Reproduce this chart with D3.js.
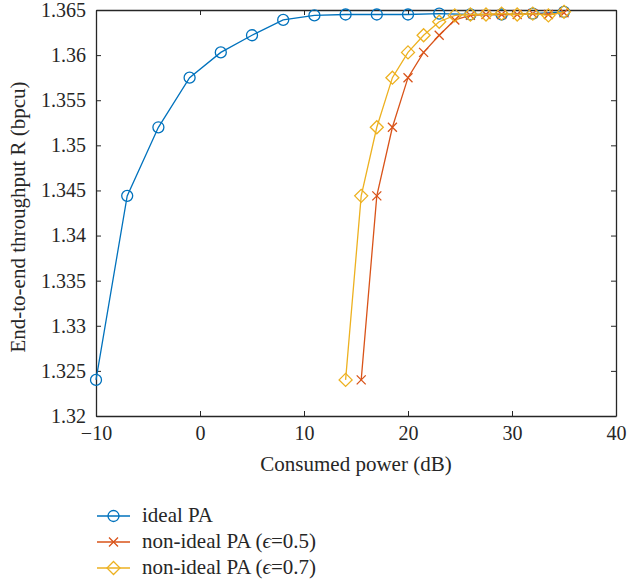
<!DOCTYPE html>
<html><head><meta charset="utf-8">
<script src="https://cdn.jsdelivr.net/npm/d3@7"></script>
<style>
body{margin:0;background:#fff;}
svg text{font-family:"Liberation Serif","Times New Roman",serif !important;}
</style></head>
<body><svg id="c" width="629" height="584"></svg>
<script>
const idealX = [-10,-7,-4,-1,2,5,8,11,14,17,20,23,26,29,32,35];
const idealY = [1.3240,1.3444,1.3520,1.3575,1.3603,1.3622,1.3639,1.3644,1.3645,1.3645,1.3645,1.3646,1.3645,1.3645,1.3646,1.3648];
const eps05X = [15.5,17,18.5,20,21.5,23,24.5,26,27.5,29,30.5,32,33.5,35];
const eps05Y = [1.3240,1.3444,1.3520,1.3575,1.3603,1.3622,1.3639,1.3644,1.3645,1.3645,1.3645,1.3646,1.3645,1.3647];
const eps07X = [14,15.5,17,18.5,20,21.5,23,24.5,26,27.5,29,30.5,32,33.5,35];
const eps07Y = [1.3240,1.3444,1.3520,1.3575,1.3603,1.3622,1.3637,1.3644,1.3645,1.3645,1.3646,1.3645,1.3646,1.3644,1.3648];
const xTicks = [-10,0,10,20,30,40];
const yTicks = [1.32,1.325,1.33,1.335,1.34,1.345,1.35,1.355,1.36,1.365];
const seriesNames = ["ideal PA","non-ideal PA (", "non-ideal PA ("];
const epsVals = [null,"=0.5)","=0.7)"];
const colors = ["#0072BD","#D95319","#EDB120"];
const markers = ["circle","cross","diamond"];

const svg = d3.select("#c");
const L=96, R=616, T=10, B=416;
const FS = 20, FS2 = 21;
const x = d3.scaleLinear().domain([-10,40]).range([L,R]);
const y = d3.scaleLinear().domain([1.32,1.365]).range([B,T]);
const axc = "#262626";

const fmtY = d => String(+d.toFixed(3));
function styleAxis(g){
  g.attr("font-family",null).attr("font-size",null);
  g.select(".domain").attr("stroke",axc).attr("stroke-width",1.3);
  g.selectAll("line").attr("stroke",axc);
  g.selectAll("text").attr("font-size",FS).attr("fill",axc);
}
svg.append("g").attr("transform",`translate(0,${B})`)
  .call(d3.axisBottom(x).tickValues(xTicks).tickSizeInner(-5).tickSizeOuter(0).tickPadding(10).tickFormat(d=>d<0?"\u2212"+Math.abs(d):d))
  .call(styleAxis);
svg.append("g").attr("transform",`translate(0,${T})`)
  .call(d3.axisTop(x).tickValues(xTicks).tickSizeInner(-5).tickSizeOuter(0).tickFormat(""))
  .call(styleAxis);
svg.append("g").attr("transform",`translate(${L},0)`)
  .call(d3.axisLeft(y).tickValues(yTicks).tickSizeInner(-5).tickSizeOuter(0).tickPadding(10).tickFormat(fmtY))
  .call(styleAxis);
svg.append("g").attr("transform",`translate(${R},0)`)
  .call(d3.axisRight(y).tickValues(yTicks).tickSizeInner(-5).tickSizeOuter(0).tickFormat(""))
  .call(styleAxis);

svg.append("text").attr("x",(L+R)/2).attr("y",471).attr("text-anchor","middle").attr("font-size",FS2).attr("fill",axc).text("Consumed power (dB)");
svg.append("text").attr("transform",`translate(25,217) rotate(-90)`).attr("text-anchor","middle").attr("font-size",FS2).attr("fill",axc).text("End-to-end throughput R (bpcu)");

function drawMarker(g,type,cx,cy,color){
  if(type==="circle") g.append("circle").attr("cx",cx).attr("cy",cy).attr("r",5.5).attr("fill","none").attr("stroke",color).attr("stroke-width",1.3);
  else if(type==="cross"){const s=4.5;g.append("path").attr("d",`M${cx-s},${cy-s}L${cx+s},${cy+s}M${cx-s},${cy+s}L${cx+s},${cy-s}`).attr("stroke",color).attr("stroke-width",1.3).attr("fill","none");}
  else {const s=6.5;g.append("path").attr("d",`M${cx},${cy-s}L${cx+s},${cy}L${cx},${cy+s}L${cx-s},${cy}Z`).attr("stroke",color).attr("stroke-width",1.3).attr("fill","none");}
}

const data = [[idealX,idealY],[eps05X,eps05Y],[eps07X,eps07Y]];
const line = d3.line().x(d=>x(d[0])).y(d=>y(d[1]));
data.forEach(([xs,ys],i)=>{
  const pts = xs.map((v,j)=>[v,ys[j]]);
  const g = svg.append("g");
  g.append("path").datum(pts).attr("d",line).attr("fill","none").attr("stroke",colors[i]).attr("stroke-width",1.3);
  pts.forEach(p=>drawMarker(g,markers[i],x(p[0]),y(p[1]),colors[i]));
});

const legY=[516,542,568];
seriesNames.forEach((n,i)=>{
  const g = svg.append("g");
  g.append("line").attr("x1",97).attr("x2",130).attr("y1",legY[i]).attr("y2",legY[i]).attr("stroke",colors[i]).attr("stroke-width",1.3);
  drawMarker(g,markers[i],113.5,legY[i],colors[i]);
  const t = g.append("text").attr("x",142).attr("y",legY[i]+6).attr("font-size",FS2).attr("fill",axc);
  t.append("tspan").text(n);
  if(epsVals[i]){ t.append("tspan").attr("font-style","italic").text("\u03F5"); t.append("tspan").text(epsVals[i]); }
});
</script></body></html>
